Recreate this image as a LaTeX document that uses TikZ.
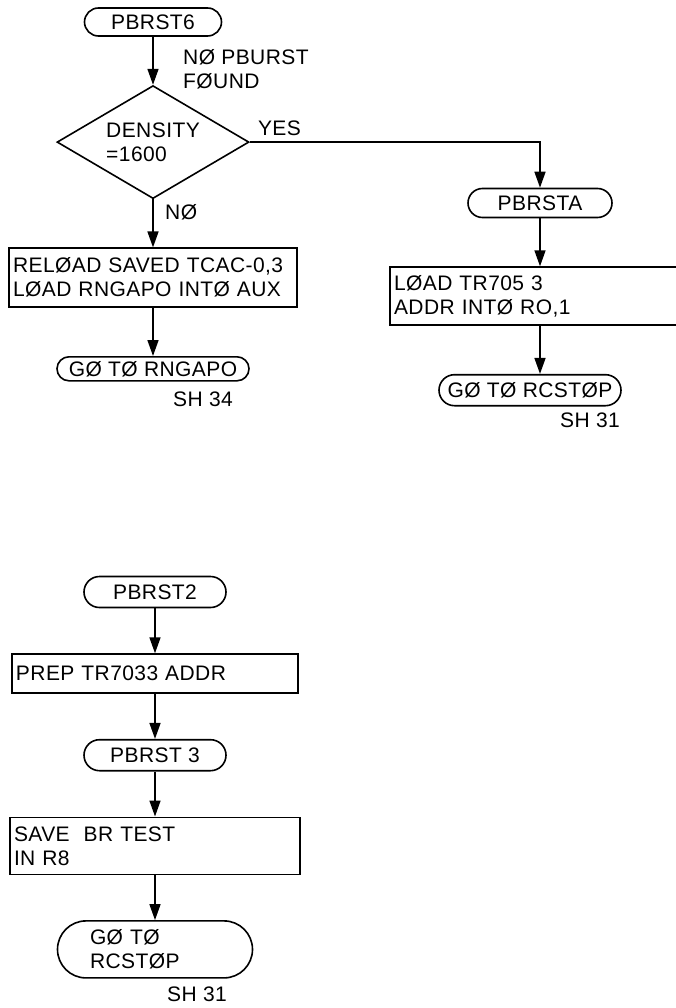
\documentclass[tikz,border=0pt]{standalone}
\usepackage{fontspec}
\setmainfont{Liberation Sans}[LetterSpace=2]
\usetikzlibrary{arrows.meta,positioning,shapes.geometric}

\begin{document}
\begin{tikzpicture}[node distance=48pt,
    every node/.style={font=\fontsize{21}{24}\selectfont},
    term/.style={draw, rectangle, line width=1.6pt, inner xsep=2pt, inner ysep=0pt, minimum height=#1, rounded corners=#1/2},
    term/.default=31pt,
    procbox/.style={draw, rectangle, line width=1.6pt, align=left, inner xsep=4pt, inner ysep=4pt},
    decision/.style={draw, diamond, line width=1.6pt, align=left, inner sep=0pt, aspect=1.7, minimum width=192pt, minimum height=113pt},
    lbl/.style={inner sep=0pt, align=left},
    flow/.style={-{Triangle[length=16pt,width=11pt]}, line width=1.6pt}]
    \useasboundingbox (0pt,0pt) rectangle (676pt,-1008pt);
    \clip (0pt,0pt) rectangle (676pt,-1008pt);

    \node[term=28pt, minimum width=137pt] (pb6) at (153pt,-22pt) {PBRST6};
    \node[decision, below=of pb6] (dens) {DENSITY\\=1600};
    \node[procbox, text width=280pt, minimum height=59pt, below=of dens] (reload) {RELØAD SAVED TCAC-0,3\\LØAD RNGAPO INTØ AUX};
    \node[term=24pt, minimum width=192pt, below=of reload] (gotorng) {GØ TØ RNGAPO};
    \node[lbl, below=10pt of gotorng.south, xshift=50pt] (sh34) {SH 34};
    \node[lbl, below right=12pt and 30pt of pb6.south] (nopb) {NØ PBURST\\FØUND};
    \node[lbl, above right=6pt and 8pt of dens.east] (yes) {YES};
    \node[lbl, below right=5pt and 12pt of dens.south] (no) {NØ};

    \node[term=29pt, minimum width=144pt] (pbrsta) at (540pt,-203pt) {PBRSTA};
    \node[procbox, text width=292pt, minimum height=58pt, below=of pbrsta] (load) {LØAD TR705 3\\ADDR INTØ RO,1};
    \node[term, minimum width=182pt, below=of load, xshift=-10pt] (gotorc) {GØ TØ RCSTØP};
    \node[lbl, below=6pt of gotorc.south, xshift=60pt] (sh31a) {SH 31};

    \node[term, minimum width=142pt] (pb2) at (155pt,-592pt) {PBRST2};
    \node[procbox, text width=278pt, minimum height=39pt, below=45pt of pb2] (prep) {PREP TR7033 ADDR};
    \node[term, minimum width=142pt, below=45pt of prep] (pb3) {PBRST 3};
    \node[procbox, text width=282pt, minimum height=57pt, below=45pt of pb3] (save) {SAVE\ \ BR TEST\\IN R8};
    \node[term=57pt, align=left, text width=130pt, minimum width=195pt, below=45pt of save] (gotorc2) {GØ TØ\\RCSTØP};
    \node[lbl, below=8pt of gotorc2.south, xshift=42pt] (sh31b) {SH 31};

    \draw[flow] (pb6) -- (dens);
    \draw[flow] (dens.east) -| (pbrsta.north);
    \draw[flow] (dens) -- (reload);
    \draw[flow] (reload) -- (gotorng);
    \draw[flow] (pbrsta) -- (load);
    \draw[flow] (load.south) -- (load.south |- gotorc.north);
    \draw[flow] (pb2) -- (prep);
    \draw[flow] (prep) -- (pb3);
    \draw[flow] (pb3) -- (save);
    \draw[flow] (save) -- (gotorc2);
\end{tikzpicture}
\end{document}
